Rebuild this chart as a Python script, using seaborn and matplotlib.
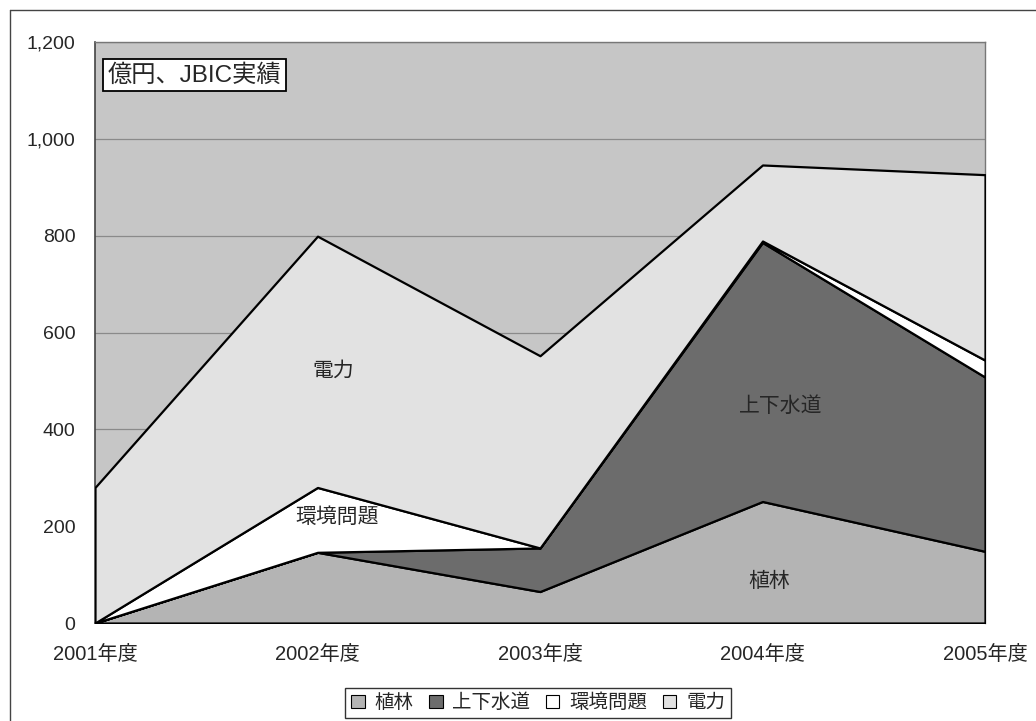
import numpy as np
import pandas as pd
import matplotlib
matplotlib.use("Agg")
import matplotlib.pyplot as plt
from matplotlib.patches import Patch
from matplotlib.lines import Line2D
import seaborn as sns

# Data (億円, JBIC実績)
years = ["2001年度", "2002年度", "2003年度", "2004年度", "2005年度"]
series_names = ["植林", "上下水道", "環境問題", "電力"]
afforestation = [0, 146, 65, 251, 148]
water_sewer = [0, 0, 90, 535, 360]
environment = [0, 134, 0, 3, 35]
electricity = [280, 519, 397, 157, 383]
y_ticks = [0, 200, 400, 600, 800, 1000, 1200]

df = pd.DataFrame({
    "年度": years,
    "植林": afforestation,
    "上下水道": water_sewer,
    "環境問題": environment,
    "電力": electricity,
})

sns.set_style("white")
plt.rcParams["font.family"] = ["Liberation Sans", "Noto Sans CJK JP", "DejaVu Sans"]

fill_colors = ["#b4b4b4", "#6c6c6c", "#ffffff", "#e2e2e2"]
plot_bg = "#c6c6c6"

W, H = 1036, 721
fig = plt.figure(figsize=(W / 100, H / 100), dpi=100)
ax = fig.add_axes([95 / W, (H - 623) / H, 890 / W, 581 / H])
ax.set_facecolor(plot_bg)

x = np.arange(len(years))
ax.stackplot(x, *[df[name].values for name in series_names],
             colors=fill_colors, edgecolor="black", linewidth=1.6, zorder=3)

ax.set_xlim(0, len(years) - 1)
ax.set_ylim(0, 1200)
ax.set_yticks(y_ticks)
ax.set_yticklabels([f"{v:,}" for v in y_ticks], fontsize=14)
ax.set_xticks(x)
ax.set_xticklabels(years, fontsize=14.5)
ax.tick_params(axis="x", pad=16, length=0)
ax.tick_params(axis="y", pad=14, length=0)
ax.grid(axis="y", color="#8a8a8a", linewidth=0.9, zorder=1)
ax.set_axisbelow(True)
for side in ["top", "right"]:
    ax.spines[side].set_color("#777777")
    ax.spines[side].set_linewidth(1.0)
for side in ["left", "bottom"]:
    ax.spines[side].set_color("#444444")
    ax.spines[side].set_linewidth(1.2)

# Labels inside the areas
label_kw = dict(fontsize=15, ha="center", va="center", zorder=5)
ax.text(1.07, 519, "電力", **label_kw)
ax.text(1.09, 219, "環境問題", **label_kw)
ax.text(3.08, 448, "上下水道", **label_kw)
ax.text(3.03, 85, "植林", **label_kw)

# Unit box
ax.text(0.014, 0.962, "億円、JBIC実績", transform=ax.transAxes, fontsize=17.5,
        ha="left", va="top", zorder=6,
        bbox=dict(boxstyle="square,pad=0.2", facecolor="white",
                  edgecolor="black", linewidth=1.3))

# Legend
handles = [Patch(facecolor=c, edgecolor="black", linewidth=0.8) for c in fill_colors]
leg = fig.legend(handles, series_names, loc="center", ncol=4,
                 bbox_to_anchor=(538 / W, 1 - 703 / H),
                 fontsize=14, frameon=True, fancybox=False,
                 handlelength=0.7, handleheight=0.7, handletextpad=0.5,
                 columnspacing=0.8, borderpad=0.3)
leg.get_frame().set_edgecolor("black")
leg.get_frame().set_linewidth(1.0)

# Outer frame (left and top edges)
fig.add_artist(Line2D([10 / W, 10 / W], [0, 1 - 10 / H], transform=fig.transFigure,
                      color="#444444", linewidth=1.0))
fig.add_artist(Line2D([10 / W, 1], [1 - 10 / H, 1 - 10 / H], transform=fig.transFigure,
                      color="#444444", linewidth=1.0))

fig.savefig("out.png", dpi=100)
